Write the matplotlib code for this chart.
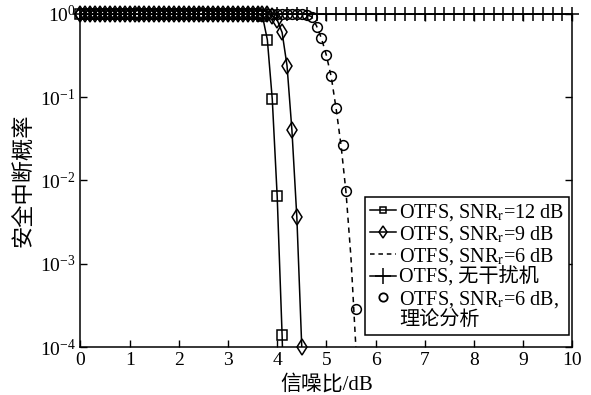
import matplotlib
matplotlib.use('Agg')
import matplotlib.pyplot as plt
from matplotlib.lines import Line2D
from matplotlib.ticker import NullLocator
import numpy as np

plt.rcParams['font.family'] = ['Liberation Serif', 'Noto Sans CJK SC']
plt.rcParams['mathtext.fontset'] = 'stix'
plt.rcParams['axes.unicode_minus'] = False

# secrecy outage probability vs SNR (dB)
snr_12 = [0.1 * i for i in range(38)] + [3.8, 3.9, 4.0, 4.1, 4.2]
pout_12 = [1.0] * 37 + [0.95, 0.49, 0.095, 0.0065, 1.4e-4, 1e-6]

snr_9 = [0.1 * i for i in range(41)] + [4.1, 4.2, 4.3, 4.4, 4.5, 4.6]
pout_9 = [1.0] * 39 + [0.95, 0.85, 0.60, 0.24, 0.040, 0.0036, 1.0e-4, 1e-7]

snr_6 = [0.1 * i for i in range(47)] + [4.7, 4.8, 4.9, 5.0, 5.1, 5.2, 5.3, 5.4, 5.5, 5.6, 5.7]
pout_6 = [1.0] * 46 + [0.98, 0.93, 0.72, 0.51, 0.32, 0.175, 0.072, 0.026, 0.0072, 0.0012, 1.0e-4, 1e-7]

snr_nojam = [0.2 * i for i in range(51)]
pout_nojam = [1.0] * 51

snr_theory = [0.1 * i for i in range(48)] + [4.8, 4.9, 5.0, 5.1, 5.2, 5.33, 5.4, 5.6]
pout_theory = [1.0] * 46 + [0.98, 0.92, 0.70, 0.51, 0.32, 0.18, 0.074, 0.027, 0.0075, 2.9e-4]

labels = ['OTFS, SNR$_\\mathrm{r}$=12 dB',
          'OTFS, SNR$_\\mathrm{r}$=9 dB',
          'OTFS, SNR$_\\mathrm{r}$=6 dB',
          'OTFS, 无干扰机',
          'OTFS, SNR$_\\mathrm{r}$=6 dB,',
          '理论分析']

fig = plt.figure(figsize=(5.91, 3.95), dpi=100)
ax = fig.add_axes([0.1362, 0.1215, 0.832, 0.8431])


def draw(x, y, ls, marker, ms):
    x = np.array(x)
    y = np.array(y)
    if ls != 'none':
        ax.plot(x, y, color='k', ls=ls, lw=1.1)
    if marker is not None:
        keep = y >= 0.99e-4
        ax.plot(x[keep], y[keep], ls='none', marker=marker, ms=ms, mfc='none',
                mec='k', mew=1.1, clip_on=False, zorder=3)


draw(snr_12, pout_12, '-', 's', 6.5)
draw(snr_9, pout_9, '-', 'd', 8)
draw(snr_6, pout_6, (0, (3.5, 3)), None, 0)
draw(snr_nojam, pout_nojam, '-', '+', 10)
draw(snr_theory, pout_theory, 'none', 'o', 7)

ax.set_yscale('log')
ax.set_xlim(0, 10)
ax.set_ylim(1e-4, 1)
ax.set_xticks(range(11))
ax.set_yticks([1e-4, 1e-3, 1e-2, 1e-1, 1])
ax.yaxis.set_minor_locator(NullLocator())
ax.tick_params(direction='in', length=5, width=1, top=True, right=True, labelsize=14)
for s in ax.spines.values():
    s.set_linewidth(1.1)

ax.set_xlabel('信噪比/dB', fontsize=15, labelpad=4)
ax.set_ylabel('安全中断概率', fontsize=16, labelpad=3)

handles = [
    Line2D([], [], color='k', lw=1.1, marker='s', ms=5, mfc='none', mew=1.1),
    Line2D([], [], color='k', lw=1.1, marker='d', ms=6.5, mfc='none', mew=1.1),
    Line2D([], [], color='k', lw=1.1, ls=(0, (3, 2.5))),
    Line2D([], [], color='k', lw=1.1, marker='+', ms=11, mew=1.1),
    Line2D([], [], color='k', ls='none', marker='o', ms=6, mfc='none', mew=1.3),
    Line2D([], [], ls='none'),
]
leg = ax.legend(handles, labels, loc='lower right', bbox_to_anchor=(0.994, 0.036),
                borderaxespad=0, fontsize=14.5, handlelength=1.3, handletextpad=0.15,
                labelspacing=0.05, borderpad=0.25, fancybox=False, framealpha=1,
                edgecolor='k')
leg.get_frame().set_linewidth(1.1)

fig.savefig('out.png', dpi=100)
